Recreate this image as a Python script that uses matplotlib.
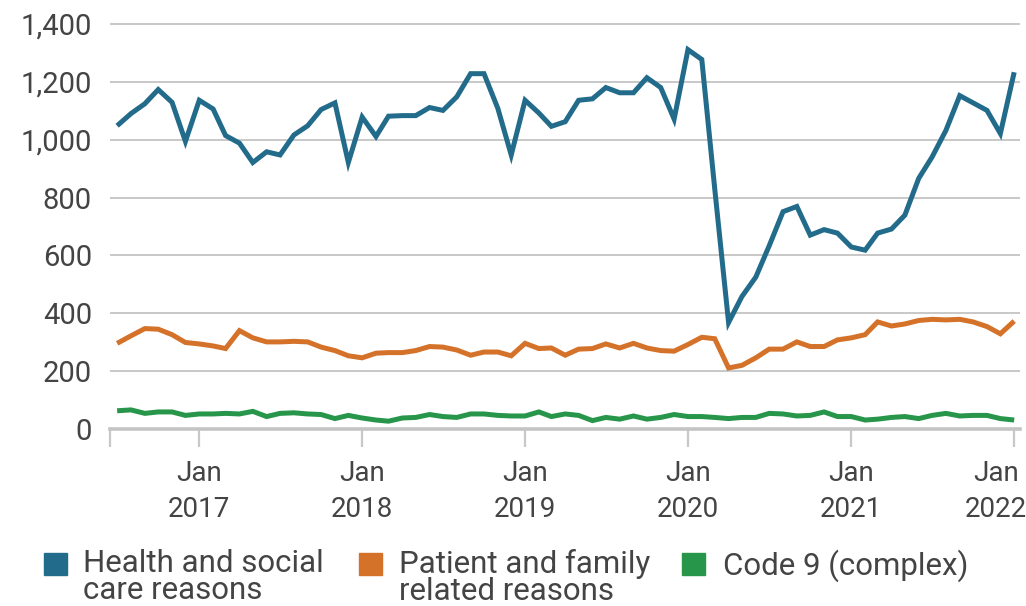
import numpy as np
import pandas as pd
import matplotlib
matplotlib.use("Agg")
import matplotlib.pyplot as plt
import matplotlib.dates as mdates
import matplotlib.transforms as mtransforms
from matplotlib.patches import Rectangle

plt.rcParams["font.family"] = ["Roboto", "DejaVu Sans"]

months = pd.date_range("2016-07-01", periods=67, freq="MS")

health_social = [
    1048, 1090, 1124, 1173, 1129, 994, 1136, 1106, 1014, 988, 921, 958,
    947, 1016, 1048, 1104, 1127, 921, 1078, 1011, 1081, 1083, 1083, 1111,
    1101, 1148, 1228, 1228, 1108, 947, 1136, 1092, 1046, 1062, 1136, 1141,
    1180, 1162, 1162, 1214, 1180, 1071, 1311, 1277, 830, 368, 458, 525,
    633, 751, 769, 670, 689, 677, 629, 618, 677, 691, 739, 866,
    940, 1032, 1152, 1127, 1101, 1021, 1233,
]
patient_family = [
    296, 322, 347, 345, 326, 299, 294, 287, 278, 340, 315, 301,
    301, 303, 301, 283, 271, 253, 246, 262, 264, 264, 271, 285,
    283, 273, 255, 266, 266, 253, 296, 278, 280, 255, 276, 278,
    294, 280, 296, 280, 271, 269, 292, 317, 312, 211, 220, 246,
    276, 276, 301, 285, 285, 308, 315, 326, 370, 356, 363, 375,
    379, 377, 379, 370, 354, 329, 373,
]
code9 = [
    63, 66, 54, 59, 59, 47, 52, 52, 54, 52, 61, 43,
    54, 56, 52, 50, 36, 47, 38, 31, 27, 38, 40, 50,
    43, 40, 52, 52, 47, 45, 45, 59, 43, 52, 47, 29,
    40, 34, 45, 34, 40, 50, 43, 43, 40, 36, 40, 40,
    54, 52, 45, 47, 59, 43, 43, 31, 34, 40, 43, 36,
    47, 54, 45, 47, 47, 36, 31,
]

series_names = [
    "Health and social\ncare reasons",
    "Patient and family\nrelated reasons",
    "Code 9 (complex)",
]
colors = ["#236B8A", "#D4722A", "#27964A"]

tick_dates = pd.to_datetime(
    ["2017-01-01", "2018-01-01", "2019-01-01", "2020-01-01", "2021-01-01", "2022-01-01"]
)
tick_labels = ["Jan\n2017", "Jan\n2018", "Jan\n2019", "Jan\n2020", "Jan\n2021", "Jan\n2022"]

W, H = 1026, 606
text_color = "#444444"
grid_color = "#c8c8c8"

fig = plt.figure(figsize=(W / 100, H / 100), dpi=100)
# axes in pixel terms: left 110, right 1020, y=0 at 429 px, 1410 at 21 px
ax = fig.add_axes([110 / W, (H - 429) / H, 910 / W, 408 / H])

for values, color in zip([health_social, patient_family, code9], colors):
    ax.plot(months, values, color=color, linewidth=3.6, solid_joinstyle="miter",
            solid_capstyle="butt", zorder=3)

ax.set_ylim(0, 1410)
ax.set_xlim(pd.Timestamp("2016-06-15"), pd.Timestamp("2022-01-14"))

ax.set_yticks(range(0, 1401, 200))
ax.set_yticklabels([f"{v:,}" for v in range(0, 1401, 200)])
ax.yaxis.grid(True, color=grid_color, linewidth=1.4)
ax.set_axisbelow(True)

xticks = [pd.Timestamp("2016-06-15")] + list(tick_dates)
ax.set_xticks(xticks)
ax.set_xticklabels([""] + tick_labels, linespacing=1.45)

for side in ["top", "right", "left"]:
    ax.spines[side].set_visible(False)
ax.spines["bottom"].set_color("#c4c4c4")
ax.spines["bottom"].set_linewidth(2.6)

ax.tick_params(axis="y", length=0, pad=13, labelsize=21, labelcolor=text_color)
ax.tick_params(axis="x", length=13, width=1.6, color=grid_color, pad=9,
               labelsize=20, labelcolor=text_color)

# last label kept inside the figure
last = ax.get_xticklabels()[-1]
last.set_horizontalalignment("right")
last.set_multialignment("center")
last.set_transform(last.get_transform() + mtransforms.ScaledTranslation(13 / 100, 0, fig.dpi_scale_trans))

# legend drawn by hand along the bottom
legend_x = [(44, 83), (359, 399), (682, 723)]
for (sx, tx), name, color in zip(legend_x, series_names, colors):
    fig.patches.append(Rectangle((sx / W, (H - 575) / H), 23 / W, 22 / H,
                                 transform=fig.transFigure, color=color))
    fig.text(tx / W, (H - 549) / H, name, ha="left", va="top", fontsize=22.5,
             color=text_color, linespacing=0.9)

fig.savefig("out.png", dpi=100)
